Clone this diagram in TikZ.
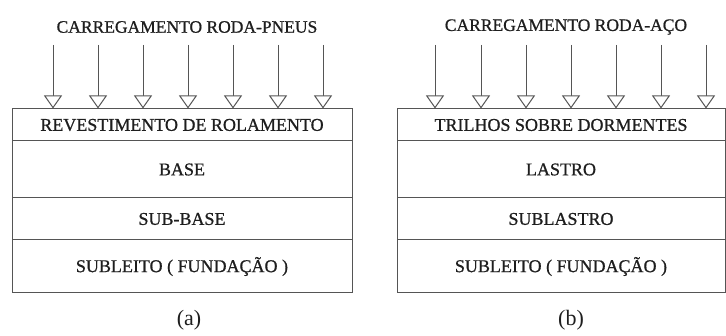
\documentclass[tikz,border=0pt]{standalone}
\usepackage{fontspec}
\setmainfont{Liberation Serif}
\newfontfamily\labelfont[FakeBold=0.8]{Liberation Serif}
\usetikzlibrary{arrows.meta}
\definecolor{linegray}{RGB}{85,85,85}
\definecolor{textgray}{RGB}{30,30,30}
\tikzset{
	layer/.style={draw=linegray, line width=1pt, rectangle, inner sep=0pt, text=textgray, font=\labelfont\fontsize{18}{18}\selectfont},
	load/.style={draw=linegray, line width=1pt, -{Triangle[open, length=13pt, width=18pt, fill=white]}},
	title/.style={text=textgray, font=\labelfont\fontsize{17.5}{17.5}\selectfont},
	caption/.style={text=textgray, font=\fontsize{22}{22}\selectfont}
}

\begin{document}
\begin{tikzpicture}[x=1pt, y=-1pt]
				\useasboundingbox (0,0) rectangle (726,336);
				% (a) pavimento rodoviario
				\node[layer, minimum width=340pt, minimum height=32pt] (RA1)at(182, 125) {REVESTIMENTO DE ROLAMENTO};
				\node[layer, minimum width=340pt, minimum height=57pt] (RA2)at(182, 169.5) {BASE};
				\node[layer, minimum width=340pt, minimum height=42pt] (RA3)at(182, 219) {SUB-BASE};
				\node[layer, minimum width=340pt, minimum height=53pt] (RA4)at(182, 266.5) {SUBLEITO ( FUNDAÇÃO )};
				\node[title] (TA)at(187, 27) {CARREGAMENTO RODA-PNEUS};
				\node[caption] (CA)at(189, 320) {(a)};
				\foreach \x [count=\i] in {53, 98, 143, 188, 233, 278, 323} {
					\coordinate (pa\i) at (\x, 45);
					\draw[load] (pa\i) -- (pa\i |- RA1.north);
				}
				% (b) via permanente
				\node[layer, minimum width=328pt, minimum height=32pt] (RB1)at(561, 125) {TRILHOS SOBRE DORMENTES};
				\node[layer, minimum width=328pt, minimum height=57pt] (RB2)at(561, 169.5) {LASTRO};
				\node[layer, minimum width=328pt, minimum height=42pt] (RB3)at(561, 219) {SUBLASTRO};
				\node[layer, minimum width=328pt, minimum height=53pt] (RB4)at(561, 266.5) {SUBLEITO ( FUNDAÇÃO )};
				\node[title] (TB)at(566, 27) {CARREGAMENTO RODA-AÇO};
				\node[caption] (CB)at(571, 320) {(b)};
				\foreach \x [count=\i] in {435, 481, 526, 571, 616, 661, 706} {
					\coordinate (pb\i) at (\x, 45);
					\draw[load] (pb\i) -- (pb\i |- RB1.north);
				}
			\end{tikzpicture}
\end{document}
